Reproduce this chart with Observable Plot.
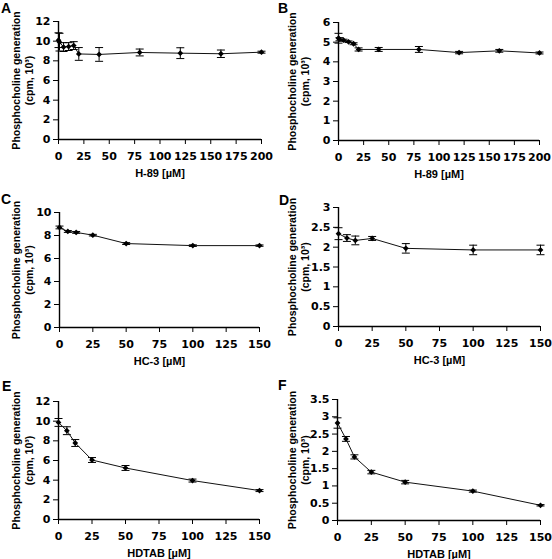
<!DOCTYPE html>
<html>
<head>
<meta charset="utf-8">
<script src="https://cdn.jsdelivr.net/npm/d3@7"></script>
<script src="https://cdn.jsdelivr.net/npm/@observablehq/plot@0.6"></script>
<style>
  html, body { margin: 0; padding: 0; background: white; }
  #wrap { position: relative; width: 552px; height: 559px; background: white; overflow: hidden; }
  .panel { position: absolute; }
  .letter { position: absolute; font-family: "Liberation Sans", Arial, sans-serif; font-weight: bold; font-size: 14px; line-height: 1; }
</style>
</head>
<body>
<div id="wrap"></div>
<script>
// ---- data ----
const h89Doses = [0, 1, 5, 10, 15, 20, 40, 80, 120, 160, 200];
const hc3Doses = [0, 6.25, 12.5, 25, 50, 100, 150];
const hdtabDoses = [0, 6.25, 12.5, 25, 50, 100, 150];

const valuesA = [10.1, 9.9, 9.4, 9.45, 9.55, 8.7, 8.65, 8.85, 8.78, 8.72, 8.88];
const errorsA = [0.75, 0.9, 0.45, 0.4, 0.4, 0.65, 0.7, 0.35, 0.55, 0.38, 0.1];
const valuesB = [5.2, 5.15, 5.1, 5.02, 4.92, 4.63, 4.63, 4.63, 4.47, 4.56, 4.45];
const errorsB = [0.25, 0.08, 0.05, 0.04, 0.05, 0.08, 0.1, 0.15, 0.06, 0.07, 0.05];
const valuesC = [8.7, 8.35, 8.27, 8.03, 7.3, 7.12, 7.12];
const errorsC = [0.12, 0.08, 0.08, 0.07, 0.08, 0.07, 0.06];
const valuesD = [2.34, 2.23, 2.17, 2.22, 1.97, 1.93, 1.93];
const errorsD = [0.15, 0.085, 0.11, 0.05, 0.12, 0.12, 0.12];
const valuesE = [9.87, 9.03, 7.78, 6.05, 5.24, 3.96, 2.94];
const errorsE = [0.4, 0.4, 0.35, 0.25, 0.25, 0.15, 0.1];
const valuesF = [2.82, 2.36, 1.84, 1.40, 1.11, 0.85, 0.44];
const errorsF = [0.15, 0.07, 0.06, 0.05, 0.05, 0.03, 0.02];

const xTicksH89 = [0, 25, 50, 75, 100, 125, 150, 175, 200];
const xTicks150 = [0, 25, 50, 75, 100, 125, 150];
const yTicksA = [0, 2, 4, 6, 8, 10, 12];
const yTicksB = [0, 1, 2, 3, 4, 5, 6];
const yTicksC = [0, 2, 4, 6, 8, 10];
const yTicksD = [0, 0.5, 1, 1.5, 2, 2.5, 3];
const yTicksE = [0, 2, 4, 6, 8, 10, 12];
const yTicksF = [0, 0.5, 1, 1.5, 2, 2.5, 3, 3.5];

const yTitle = "Phosphocholine generation\n(cpm, 10³)";
const xTitleH89 = "H-89 [µM]";
const xTitleHC3 = "HC-3 [µM]";
const xTitleHDTAB = "HDTAB [µM]";

// ---- layout ----
const panels = [
  {letter: "A", lx: 1, ly: 1, left: 0, top: 0, height: 185, mL: 58, mR: 15, mT: 21, mB: 46,
   doses: h89Doses, values: valuesA, errors: errorsA, xMax: 200, xTicks: xTicksH89, yTicks: yTicksA, xTitle: xTitleH89},
  {letter: "B", lx: 278, ly: 1, left: 276, top: 0, height: 185, mL: 62, mR: 13, mT: 22, mB: 45,
   doses: h89Doses, values: valuesB, errors: errorsB, xMax: 200, xTicks: xTicksH89, yTicks: yTicksB, xTitle: xTitleH89},
  {letter: "C", lx: 1, ly: 192, left: 0, top: 185, height: 185, mL: 59, mR: 17, mT: 27, mB: 43,
   doses: hc3Doses, values: valuesC, errors: errorsC, xMax: 150, xTicks: xTicks150, yTicks: yTicksC, xTitle: xTitleHC3},
  {letter: "D", lx: 279, ly: 193, left: 276, top: 185, height: 185, mL: 62, mR: 12, mT: 22, mB: 44,
   doses: hc3Doses, values: valuesD, errors: errorsD, xMax: 150, xTicks: xTicks150, yTicks: yTicksD, xTitle: xTitleHC3},
  {letter: "E", lx: 2, ly: 379, left: 0, top: 370, height: 189, mL: 58, mR: 17, mT: 31, mB: 40,
   doses: hdtabDoses, values: valuesE, errors: errorsE, xMax: 150, xTicks: xTicks150, yTicks: yTicksE, xTitle: xTitleHDTAB},
  {letter: "F", lx: 278, ly: 378, left: 276, top: 370, height: 189, mL: 61, mR: 12, mT: 29, mB: 39,
   doses: hdtabDoses, values: valuesF, errors: errorsF, xMax: 150, xTicks: xTicks150, yTicks: yTicksF, xTitle: xTitleHDTAB}
];

const capSymbol = {
  draw(context) { context.moveTo(-4, 0); context.lineTo(4, 0); }
};

const tickFont = {fontFamily: "DejaVu Sans, sans-serif", fontSize: 11, fontWeight: "bold", fill: "black"};
const labelFont = {fontFamily: "Liberation Sans, Arial, sans-serif", fontWeight: "bold", fill: "black"};

const wrap = document.getElementById("wrap");

for (const p of panels) {
  const data = p.doses.map((x, i) => ({x, y: p.values[i], e: p.errors[i]}));
  const yMax = p.yTicks[p.yTicks.length - 1];
  const chart = Plot.plot({
    width: 276,
    height: p.height,
    marginLeft: p.mL,
    marginRight: p.mR,
    marginTop: p.mT,
    marginBottom: p.mB,
    style: {fontFamily: "DejaVu Sans, sans-serif", fontSize: "11px", fontWeight: "bold", background: "white", color: "black", overflow: "visible"},
    x: {domain: [0, p.xMax]},
    y: {domain: [0, yMax]},
    marks: [
      Plot.axisX(p.xTicks, {tickSize: 5, tickPadding: 8, tickFormat: d => String(d), label: null, stroke: "black", strokeOpacity: 1, ...tickFont}),
      Plot.axisY(p.yTicks, {tickSize: 5, tickPadding: 3, tickFormat: d => String(d), label: null, stroke: "black", strokeOpacity: 1, ...tickFont}),
      Plot.ruleX([0], {stroke: "black", strokeWidth: 1.4}),
      Plot.ruleY([0], {stroke: "black", strokeWidth: 1.4}),
      Plot.ruleX(data, {x: "x", y1: d => d.y - d.e, y2: d => d.y + d.e, stroke: "black", strokeWidth: 1}),
      Plot.dot(data, {x: "x", y: d => d.y + d.e, symbol: capSymbol, stroke: "black", strokeWidth: 1, fill: "none"}),
      Plot.dot(data, {x: "x", y: d => d.y - d.e, symbol: capSymbol, stroke: "black", strokeWidth: 1, fill: "none"}),
      Plot.line(data, {x: "x", y: "y", stroke: "#111", strokeWidth: 1}),
      Plot.dot(data, {x: "x", y: "y", symbol: "diamond2", fill: "black", r: 2.6}),
      Plot.text([yTitle], {frameAnchor: "left", rotate: -90, dx: 21.5 - p.mL, textAnchor: "middle", lineAnchor: "middle", lineHeight: 1.25,
        fontSize: 10.5, ...labelFont}),
      Plot.text([p.xTitle], {frameAnchor: "bottom", dy: 34, textAnchor: "middle", lineAnchor: "middle",
        fontSize: 11, ...labelFont})
    ]
  });
  const div = document.createElement("div");
  div.className = "panel";
  div.style.left = p.left + "px";
  div.style.top = p.top + "px";
  div.appendChild(chart);
  wrap.appendChild(div);

  const letter = document.createElement("div");
  letter.className = "letter";
  letter.style.left = p.lx + "px";
  letter.style.top = p.ly + "px";
  letter.textContent = p.letter;
  wrap.appendChild(letter);
}
</script>
</body>
</html>
